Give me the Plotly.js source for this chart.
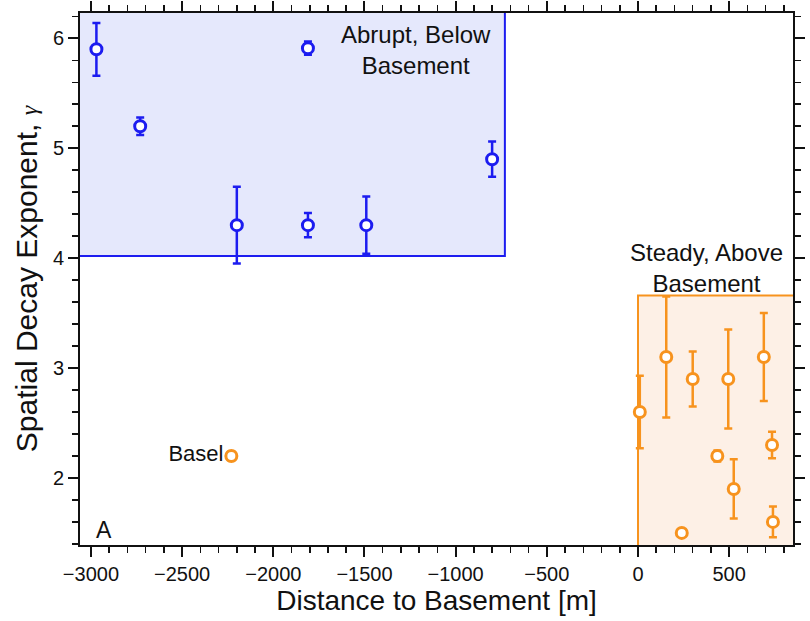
<!DOCTYPE html>
<html>
<head>
<meta charset="utf-8">
<script src="https://cdn.plot.ly/plotly-3.0.1.min.js"></script>
<style>html,body{margin:0;padding:0;background:#fff;}#chart{width:810px;height:621px;}</style>
</head>
<body>
<div id="chart"></div>
<script>
// Abrupt, below basement (blue)
const blueX = [-2970, -2730, -2200, -1810, -1810, -1490, -800];
const blueY = [5.90, 5.20, 4.30, 5.91, 4.30, 4.30, 4.90];
const blueErr = [0.24, 0.08, 0.35, 0.06, 0.11, 0.26, 0.16];

// Steady, above basement (orange)
const orangeX = [10, 155, 300, 240, 435, 495, 525, 690, 735, 740];
const orangeY = [2.60, 3.10, 2.90, 1.50, 2.20, 2.90, 1.90, 3.10, 2.30, 1.60];
const orangeErr = [0.33, 0.55, 0.25, 0.02, 0.05, 0.45, 0.27, 0.40, 0.12, 0.14];

// Basel
const baselX = [-2230];
const baselY = [2.20];
const baselErr = [0.04];
const baselLabel = ["Basel"];

const xTicks = [-3000, -2500, -2000, -1500, -1000, -500, 0, 500];
const yTicks = [2, 3, 4, 5, 6];

const blue = '#1c1cf0';
const orange = '#f7931e';
const FAM = 'Liberation Sans, Arial, Helvetica, sans-serif';

function errTrace(x, y, e, color, text) {
  return {
    type: 'scatter', mode: text ? 'markers+text' : 'markers',
    x: x, y: y, text: text, textposition: 'middle left',
    textfont: {family: FAM, size: 22, color: '#111'},
    error_y: {type: 'data', array: e, visible: true, color: color, thickness: 2.5, width: 4},
    marker: {symbol: 'circle', size: 11, color: '#ffffff', line: {color: color, width: 3}},
    showlegend: false, hoverinfo: 'x+y'
  };
}

const data = [
  errTrace(blueX, blueY, blueErr, blue),
  errTrace(orangeX, orangeY, orangeErr, orange),
  errTrace(baselX, baselY, baselErr, orange, baselLabel)
];

const blueBox = {x0: -3060, x1: -730, y0: 4.02, y1: 6.23};
const orangeBox = {x0: 0, x1: 850, y0: 1.39, y1: 3.66};

function note(x, y, text, size) {
  return {xref: 'x', yref: 'y', x: x, y: y, text: text, showarrow: false,
          font: {size: size, family: FAM, color: '#111'}, xanchor: 'center', yanchor: 'middle', align: 'center'};
}

const layout = {
  width: 810, height: 621,
  margin: {l: 80, r: 17, t: 13, b: 76},
  paper_bgcolor: '#ffffff', plot_bgcolor: '#ffffff',
  font: {family: FAM, color: '#111'},
  xaxis: {
    range: [-3060, 850], tickvals: xTicks, ticktext: xTicks.map(v => v < 0 ? '\u2212' + Math.abs(v) : String(v)),
    ticks: 'outside', ticklen: 10, tickwidth: 2, tickcolor: '#111',
    minor: {dtick: 100, tick0: 0, ticks: 'outside', ticklen: 6, tickwidth: 1.5, tickcolor: '#111'},
    showline: true, linewidth: 2, linecolor: '#111', mirror: 'ticks',
    showgrid: false, zeroline: false,
    tickfont: {size: 20, family: FAM, color: '#111'},
    title: {text: 'Distance to Basement [m]', font: {size: 28, family: FAM, color: '#111'}, standoff: 2}
  },
  yaxis: {
    range: [1.39, 6.23], tickvals: yTicks,
    ticks: 'outside', ticklen: 10, tickwidth: 2, tickcolor: '#111',
    minor: {dtick: 0.2, tick0: 0, ticks: 'outside', ticklen: 6, tickwidth: 1.5, tickcolor: '#111'},
    showline: true, linewidth: 2, linecolor: '#111', mirror: 'ticks',
    showgrid: false, zeroline: false,
    tickfont: {size: 20, family: FAM, color: '#111'},
    title: {text: 'Spatial Decay Exponent, <span style="font-family:\'Liberation Serif\', serif;font-size:24px"><i>\u03b3</i></span>',
            font: {size: 30, family: FAM, color: '#111'}, standoff: 6}
  },
  shapes: [
    {type: 'rect', layer: 'below', xref: 'x', yref: 'y', x0: blueBox.x0, x1: blueBox.x1, y0: blueBox.y0, y1: blueBox.y1,
     fillcolor: '#e5e8fc', line: {width: 0}},
    {type: 'path', layer: 'below', xref: 'x', yref: 'y',
     path: `M ${blueBox.x0} ${blueBox.y0} L ${blueBox.x1} ${blueBox.y0} L ${blueBox.x1} ${blueBox.y1}`,
     line: {color: blue, width: 2}},
    {type: 'rect', layer: 'below', xref: 'x', yref: 'y', x0: orangeBox.x0, x1: orangeBox.x1, y0: orangeBox.y0, y1: orangeBox.y1,
     fillcolor: '#fdf0e6', line: {width: 0}},
    {type: 'path', layer: 'below', xref: 'x', yref: 'y',
     path: `M ${orangeBox.x0} ${orangeBox.y0} L ${orangeBox.x0} ${orangeBox.y1} L ${orangeBox.x1} ${orangeBox.y1}`,
     line: {color: orange, width: 2}}
  ],
  annotations: [
    note(-1220, 5.89, 'Abrupt, Below<br>Basement', 24),
    note(374, 3.91, 'Steady, Above<br>Basement', 24),
    {xref: 'paper', yref: 'paper', x: 0.02, y: 0.0, text: 'A', showarrow: false,
     font: {size: 23, family: FAM, color: '#111'}, xanchor: 'left', yanchor: 'bottom'}
  ]
};

Plotly.newPlot('chart', data, layout, {displayModeBar: false, staticPlot: true});
</script>
</body>
</html>
